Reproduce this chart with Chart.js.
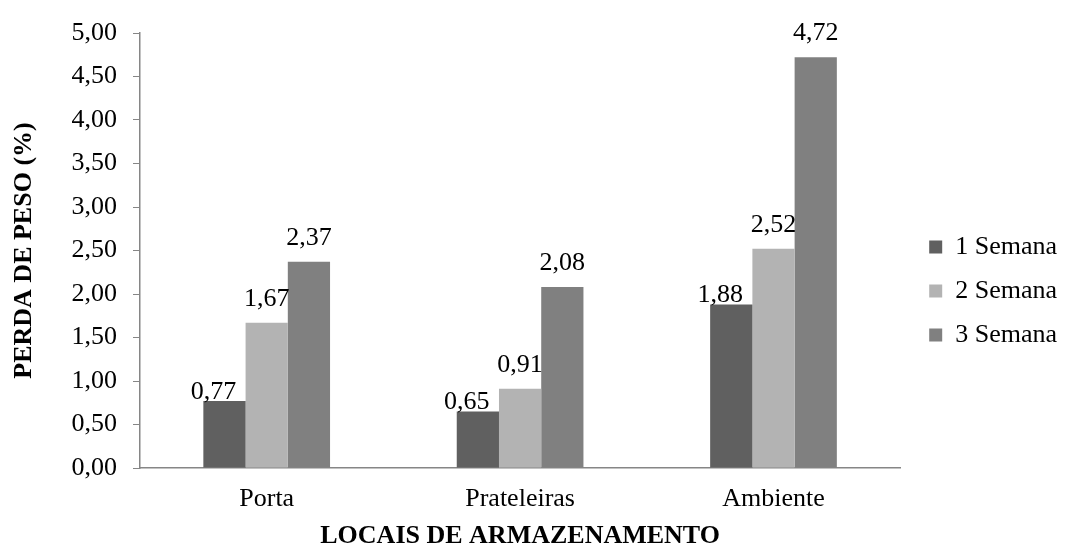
<!DOCTYPE html>
<html>
<head>
<meta charset="utf-8">
<script src="https://cdn.jsdelivr.net/npm/chart.js@4/dist/chart.umd.min.js"></script>
<style>
  html, body { margin: 0; padding: 0; background: #ffffff; }
  #wrap { width: 1067px; height: 549px; }
</style>
</head>
<body>
<div id="wrap"><canvas id="perdaChart" width="1067" height="549"></canvas></div>
<script>
var locais = ['Porta', 'Prateleiras', 'Ambiente'];
var semana1 = [0.77, 0.65, 1.88];
var semana2 = [1.67, 0.91, 2.52];
var semana3 = [2.37, 2.08, 4.72];
var serieNomes = ['1 Semana', '2 Semana', '3 Semana'];
var yTicks = [0, 0.5, 1, 1.5, 2, 2.5, 3, 3.5, 4, 4.5, 5];

var serif = '"Liberation Serif", "Times New Roman", serif';
var axisGrey = '#868686';

function fmt(v) {
    return v.toFixed(2).replace('.', ',');
}

// value labels above each bar (Excel style)
var valueLabels = {
    id: 'valueLabels',
    afterDatasetsDraw: function(chart, args, opts) {
        var ctx = chart.ctx;
        ctx.save();
        ctx.font = '26px ' + serif;
        ctx.fillStyle = '#000000';
        ctx.textAlign = 'center';
        ctx.textBaseline = 'alphabetic';
        chart.data.datasets.forEach(function(ds, i) {
            var meta = chart.getDatasetMeta(i);
            var off = opts.offsets[i];
            meta.data.forEach(function(bar, j) {
                ctx.fillText(fmt(ds.data[j]), bar.x + off.dx, bar.y - off.gap);
            });
        });
        ctx.restore();
    }
};

var ctx = document.getElementById('perdaChart').getContext('2d');
window.myCharts = window.myCharts || {};
window.myCharts.perdaChart = new Chart(ctx, {
    type: 'bar',
    data: {
        labels: locais,
        datasets: [
            { label: serieNomes[0], data: semana1, backgroundColor: '#606060' },
            { label: serieNomes[1], data: semana2, backgroundColor: '#b3b3b3' },
            { label: serieNomes[2], data: semana3, backgroundColor: '#808080' }
        ]
    },
    options: {
        responsive: false,
        maintainAspectRatio: false,
        animation: false,
        devicePixelRatio: 1,
        layout: { padding: { top: 33, right: 0, bottom: 0, left: 0 } },
        datasets: {
            bar: { categoryPercentage: 0.5, barPercentage: 1.0 }
        },
        scales: {
            x: {
                grid: { display: false, drawTicks: false },
                border: { display: true, color: axisGrey, width: 1.5 },
                ticks: {
                    color: '#000000',
                    font: { family: serif, size: 26 },
                    padding: 16
                },
                title: {
                    display: true,
                    text: 'LOCAIS DE ARMAZENAMENTO',
                    color: '#000000',
                    font: { family: serif, size: 26, weight: 'bold', lineHeight: 1 },
                    padding: { top: 0, bottom: 0 }
                },
                afterFit: function(s) { s.height = 81; }
            },
            y: {
                min: 0,
                max: 5,
                afterBuildTicks: function(s) {
                    s.ticks = yTicks.map(function(v) { return { value: v }; });
                },
                grid: {
                    display: true,
                    drawOnChartArea: false,
                    drawTicks: true,
                    tickLength: 7,
                    color: axisGrey
                },
                border: { display: true, color: axisGrey, width: 1.5 },
                ticks: {
                    color: '#000000',
                    font: { family: serif, size: 26 },
                    padding: 16,
                    callback: function(v) { return fmt(v); }
                },
                title: {
                    display: true,
                    text: 'PERDA DE PESO (%)',
                    color: '#000000',
                    font: { family: serif, size: 26, weight: 'bold', lineHeight: 1 },
                    padding: { top: 11, bottom: 0 }
                },
                afterFit: function(s) { s.width = 140; }
            },
            yGap: {
                position: 'right',
                display: true,
                grid: { display: false, drawTicks: false },
                border: { display: false },
                ticks: { display: false },
                afterFit: function(s) { s.width = 11; }
            }
        },
        plugins: {
            legend: {
                position: 'right',
                align: 'center',
                labels: {
                    boxWidth: 13,
                    boxHeight: 13,
                    padding: 18,
                    color: '#000000',
                    font: { family: serif, size: 26 }
                }
            },
            tooltip: { enabled: false },
            valueLabels: {
                offsets: [
                    { dx: -11, gap: 2 },
                    { dx: 0, gap: 17 },
                    { dx: 0, gap: 17 }
                ]
            }
        }
    },
    plugins: [valueLabels]
});
</script>
</body>
</html>
